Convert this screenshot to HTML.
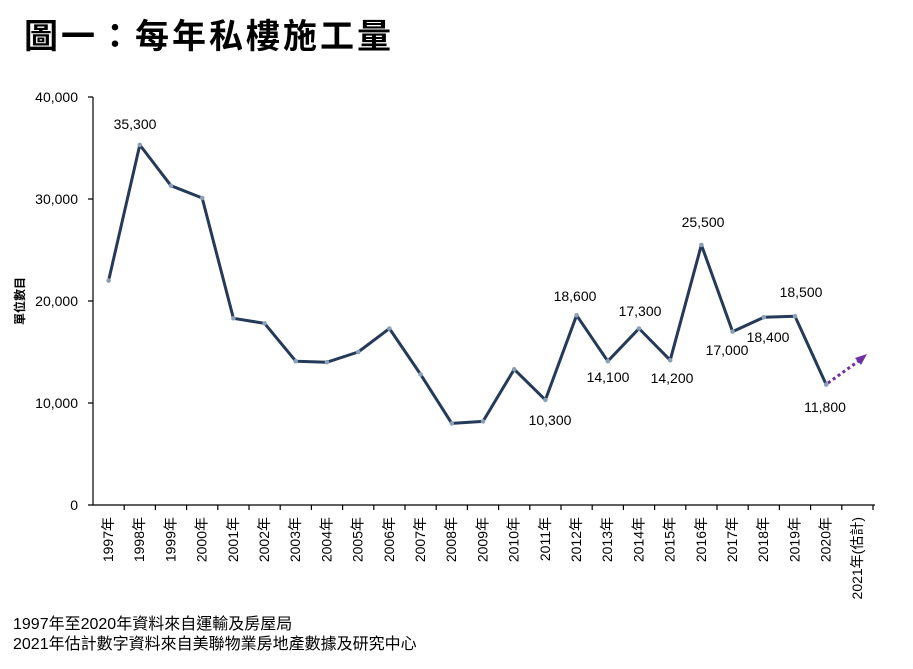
<!DOCTYPE html>
<html><head><meta charset="utf-8"><style>
body{margin:0;background:#fff;width:913px;height:669px;overflow:hidden}
svg{display:block}
text{font-family:"Liberation Sans","Noto Sans CJK TC",sans-serif;fill:#000}
</style></head><body>
<svg width="913" height="669" viewBox="0 0 913 669">
<text x="24" y="48" font-size="34" font-weight="bold" style="font-family:'Noto Sans CJK TC',sans-serif" letter-spacing="3">圖一：每年私樓施工量</text>
<g font-size="14" text-anchor="end">
<text x="78" y="102">40,000</text>
<text x="78" y="204">30,000</text>
<text x="78" y="306">20,000</text>
<text x="78" y="408">10,000</text>
<text x="78" y="510">0</text>
</g>
<text transform="translate(24,301) rotate(-90)" font-size="12" font-weight="bold" text-anchor="middle" style="font-family:'Noto Sans CJK TC',sans-serif">單位數目</text>
<g stroke="#000" stroke-width="1.2" fill="none">
<path d="M93 97V505H875"/>
<path d="M88 97H93M88 199H93M88 301H93M88 403H93M88 505H93"/>
<path d="M124.2 505v5M155.4 505v5M186.6 505v5M217.8 505v5M249 505v5M280.2 505v5M311.4 505v5M342.6 505v5M373.8 505v5M405 505v5M436.2 505v5M467.4 505v5M498.6 505v5M529.8 505v5M561 505v5M592.2 505v5M623.4 505v5M654.6 505v5M685.8 505v5M717 505v5M748.2 505v5M779.4 505v5M810.6 505v5M841.8 505v5M873 505v5"/>
</g>
<polyline fill="none" stroke="#243a58" stroke-width="3" stroke-linejoin="round" points="108.6,280.6 139.8,144.9 171,185.7 202.2,198 233.4,318.3 264.6,323.4 295.8,361.2 327,362.2 358.2,352 389.4,328.5 420.6,374.4 451.8,423.4 483,421.4 514.2,369.3 545.4,399.9 576.6,315.3 607.8,361.2 639,328.5 670.2,360.2 701.4,244.9 732.6,331.6 763.8,317.3 795,316.3 826.2,384.6"/>
<g fill="#8aa0b8">
<circle cx="108.6" cy="280.6" r="2.3"/><circle cx="139.8" cy="144.9" r="2.3"/><circle cx="171" cy="185.7" r="2.3"/><circle cx="202.2" cy="198" r="2.3"/><circle cx="233.4" cy="318.3" r="2.3"/><circle cx="264.6" cy="323.4" r="2.3"/><circle cx="295.8" cy="361.2" r="2.3"/><circle cx="327" cy="362.2" r="2.3"/><circle cx="358.2" cy="352" r="2.3"/><circle cx="389.4" cy="328.5" r="2.3"/><circle cx="420.6" cy="374.4" r="2.3"/><circle cx="451.8" cy="423.4" r="2.3"/><circle cx="483" cy="421.4" r="2.3"/><circle cx="514.2" cy="369.3" r="2.3"/><circle cx="545.4" cy="399.9" r="2.3"/><circle cx="576.6" cy="315.3" r="2.3"/><circle cx="607.8" cy="361.2" r="2.3"/><circle cx="639" cy="328.5" r="2.3"/><circle cx="670.2" cy="360.2" r="2.3"/><circle cx="701.4" cy="244.9" r="2.3"/><circle cx="732.6" cy="331.6" r="2.3"/><circle cx="763.8" cy="317.3" r="2.3"/><circle cx="795" cy="316.3" r="2.3"/><circle cx="826.2" cy="384.6" r="2.3"/>
</g>
<line x1="828" y1="383" x2="860" y2="360" stroke="#7030a0" stroke-width="3" stroke-dasharray="3,3"/>
<polygon points="867,354 855,358 861,365" fill="#7030a0"/>
<g font-size="14" text-anchor="middle">
<text x="135" y="129">35,300</text>
<text x="575" y="301">18,600</text>
<text x="640" y="316">17,300</text>
<text x="703" y="227">25,500</text>
<text x="801" y="297">18,500</text>
<text x="550" y="425">10,300</text>
<text x="608" y="382">14,100</text>
<text x="672" y="383">14,200</text>
<text x="727" y="355">17,000</text>
<text x="768" y="342">18,400</text>
<text x="825" y="412">11,800</text>
</g>
<g font-size="14" text-anchor="end" style="font-family:'Liberation Sans','Noto Sans CJK TC',sans-serif">
<text transform="translate(113,517) rotate(-90)">1997年</text>
<text transform="translate(144.2,517) rotate(-90)">1998年</text>
<text transform="translate(175.4,517) rotate(-90)">1999年</text>
<text transform="translate(206.6,517) rotate(-90)">2000年</text>
<text transform="translate(237.8,517) rotate(-90)">2001年</text>
<text transform="translate(269,517) rotate(-90)">2002年</text>
<text transform="translate(300.2,517) rotate(-90)">2003年</text>
<text transform="translate(331.4,517) rotate(-90)">2004年</text>
<text transform="translate(362.6,517) rotate(-90)">2005年</text>
<text transform="translate(393.8,517) rotate(-90)">2006年</text>
<text transform="translate(425,517) rotate(-90)">2007年</text>
<text transform="translate(456.2,517) rotate(-90)">2008年</text>
<text transform="translate(487.4,517) rotate(-90)">2009年</text>
<text transform="translate(518.6,517) rotate(-90)">2010年</text>
<text transform="translate(549.8,517) rotate(-90)">2011年</text>
<text transform="translate(581,517) rotate(-90)">2012年</text>
<text transform="translate(612.2,517) rotate(-90)">2013年</text>
<text transform="translate(643.4,517) rotate(-90)">2014年</text>
<text transform="translate(674.6,517) rotate(-90)">2015年</text>
<text transform="translate(705.8,517) rotate(-90)">2016年</text>
<text transform="translate(737,517) rotate(-90)">2017年</text>
<text transform="translate(768.2,517) rotate(-90)">2018年</text>
<text transform="translate(799.4,517) rotate(-90)">2019年</text>
<text transform="translate(830.6,517) rotate(-90)">2020年</text>
<text transform="translate(861.8,517) rotate(-90)">2021年(估計)</text>
</g>
<g font-size="16" style="font-family:'Liberation Sans','Noto Sans CJK TC',sans-serif">
<text x="13" y="629">1997年至2020年資料來自運輸及房屋局</text>
<text x="13" y="649">2021年估計數字資料來自美聯物業房地產數據及研究中心</text>
</g>
</svg>
</body></html>
